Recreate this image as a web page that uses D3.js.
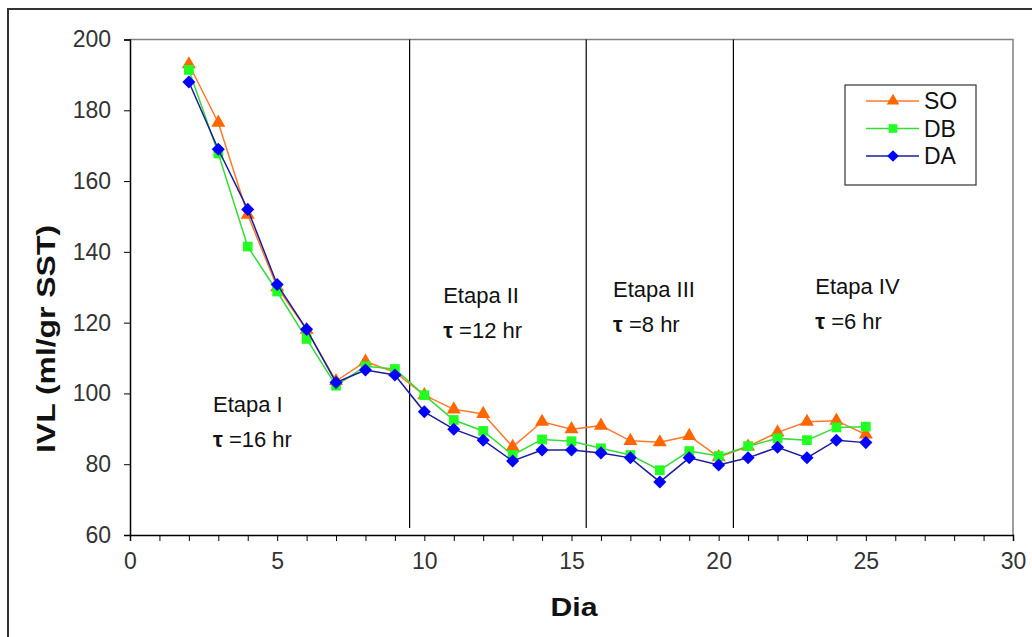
<!DOCTYPE html>
<html><head><meta charset="utf-8">
<script src="https://cdn.jsdelivr.net/npm/d3@7"></script>
<style>body{margin:0;background:#fff;}svg{display:block;font-family:"Liberation Sans",Arial,sans-serif;}</style>
</head><body>
<svg id="c" width="1032" height="637"></svg>
<script>
const days = [2,3,4,5,6,7,8,9,10,11,12,13,14,15,16,17,18,19,20,21,22,23,24,25];
const SO = [193,176.5,150.5,130,118,103.5,109,106,99.5,95.5,94.2,84.9,92,89.9,90.9,86.6,86.2,88,82,85,89,92,92.3,88.4];
const DB = [191.4,167.8,141.5,128.8,115.4,102.2,107.7,106.9,99.5,92.5,89.4,82.6,87,86.5,84.5,82.6,78.3,83.7,82.3,85.1,87.3,86.8,90.4,90.6];
const DA = [188,169,152,130.8,118.1,103.1,106.6,105.2,94.8,89.9,86.8,80.9,84,84,83.2,81.8,75,81.8,79.8,81.8,84.8,81.8,86.8,86.1];
const xTicks = [0,5,10,15,20,25,30];
const yTicks = [60,80,100,120,140,160,180,200];
const stageLines = [9.5,15.5,20.5];
const stages = [
  {name:"Etapa I", tau:"=16 hr", x:2.82, y:94.75},
  {name:"Etapa II", tau:"=12 hr", x:10.64, y:125.5},
  {name:"Etapa III", tau:"=8 hr", x:16.41, y:127.2},
  {name:"Etapa IV", tau:"=6 hr", x:23.28, y:128.1}
];
const seriesNames = ["SO","DB","DA"];

const FONT = "'Liberation Sans',Arial,sans-serif";
const svg = d3.select("#c");
const x = d3.scaleLinear().domain([0,30]).range([130,1013]);
const y = d3.scaleLinear().domain([60,200]).range([535,39.5]);

// outer chart border
svg.append("rect").attr("x",8).attr("y",9).attr("width",1100).attr("height",700)
  .attr("fill","none").attr("stroke","#333").attr("stroke-width",2);

// plot border (top/right gray)
svg.append("path").attr("d",`M${x(0)},${y(200)}H${x(30)}V${y(60)}`)
  .attr("fill","none").attr("stroke","#808080").attr("stroke-width",1.5);

// axes
const xAxis = d3.axisBottom(x).tickValues(d3.range(0,31,1)).tickSize(6).tickPadding(12)
  .tickFormat(d => xTicks.includes(d) ? d : "");
const gx = svg.append("g").attr("transform",`translate(0,${y(60)})`).call(xAxis);
gx.select(".domain").attr("stroke","#000").attr("stroke-width",1.5);
gx.selectAll(".tick line").attr("stroke","#000");
gx.selectAll(".tick text").attr("font-size",23).attr("fill","#333").attr("font-family",FONT);

const yAxis = d3.axisLeft(y).tickValues(yTicks).tickSize(6).tickPadding(13);
const gy = svg.append("g").attr("transform",`translate(${x(0)},0)`).call(yAxis);
gy.select(".domain").attr("stroke","#000").attr("stroke-width",1.5);
gy.selectAll(".tick line").attr("stroke","#000");
gy.selectAll(".tick text").attr("font-size",23).attr("fill","#333").attr("font-family",FONT);

// stage lines
svg.selectAll(".stage").data(stageLines).enter().append("line")
  .attr("x1",d=>x(d)).attr("x2",d=>x(d)).attr("y1",y(200)).attr("y2",y(62))
  .attr("stroke","#000").attr("stroke-width",1.2);

// stage labels
stages.forEach(s=>{
  svg.append("text").attr("x",x(s.x)).attr("y",y(s.y)).attr("font-size",22).attr("fill","#111").text(s.name);
  const t = svg.append("text").attr("x",x(s.x)).attr("y",y(s.y)+35).attr("font-size",22).attr("fill","#111");
  t.append("tspan").attr("font-weight","bold").text("τ ");
  t.append("tspan").text(s.tau);
});

const diamond = {draw(ctx, size){ const r = Math.sqrt(size/2); ctx.moveTo(0,-r); ctx.lineTo(r,0); ctx.lineTo(0,r); ctx.lineTo(-r,0); ctx.closePath(); }};
const defs = [
  {name:"SO", vals:SO, line:"#ff7a2a", fill:"#ff6600", sym:d3.symbolTriangle, size:85},
  {name:"DB", vals:DB, line:"#33dd33", fill:"#22ff22", sym:d3.symbolSquare, size:95},
  {name:"DA", vals:DA, line:"#1c1ca0", fill:"#0000ff", sym:diamond, size:85}
];
const line = d3.line().x(d=>x(d[0])).y(d=>y(d[1]));
defs.forEach(s=>{
  const pts = days.map((d,i)=>[d,s.vals[i]]);
  svg.append("path").datum(pts).attr("d",line).attr("fill","none")
    .attr("stroke",s.line).attr("stroke-width",1.5);
  svg.selectAll(null).data(pts).enter().append("path")
    .attr("d",d3.symbol().type(s.sym).size(s.size))
    .attr("transform",d=>`translate(${x(d[0])},${y(d[1])})`)
    .attr("fill",s.fill);
});

// legend
const lg = svg.append("g");
lg.append("rect").attr("x",845).attr("y",85).attr("width",131).attr("height",100)
  .attr("fill","#fff").attr("stroke","#333").attr("stroke-width",1.2);
seriesNames.forEach((n,i)=>{
  const s = defs[i];
  const yy = 101 + i*27.5;
  lg.append("line").attr("x1",866).attr("x2",919).attr("y1",yy).attr("y2",yy)
    .attr("stroke",s.line).attr("stroke-width",1.5);
  lg.append("path").attr("d",d3.symbol().type(s.sym).size(s.size*0.8)).attr("transform",`translate(893,${yy})`).attr("fill",s.fill);
  lg.append("text").attr("x",924).attr("y",yy+8).attr("font-size",23).attr("fill","#111").text(n);
});

// axis titles
svg.append("text").attr("x",574).attr("y",616).attr("text-anchor","middle")
  .attr("font-size",26).attr("font-weight","bold").attr("fill","#111")
  .attr("textLength",47).attr("lengthAdjust","spacingAndGlyphs").text("Dia");
svg.append("text").attr("transform",`translate(55,339) rotate(-90)`).attr("text-anchor","middle")
  .attr("font-size",26).attr("font-weight","bold").attr("fill","#111")
  .attr("textLength",228).attr("lengthAdjust","spacingAndGlyphs").text("IVL (ml/gr SST)");
</script>
</body></html>
